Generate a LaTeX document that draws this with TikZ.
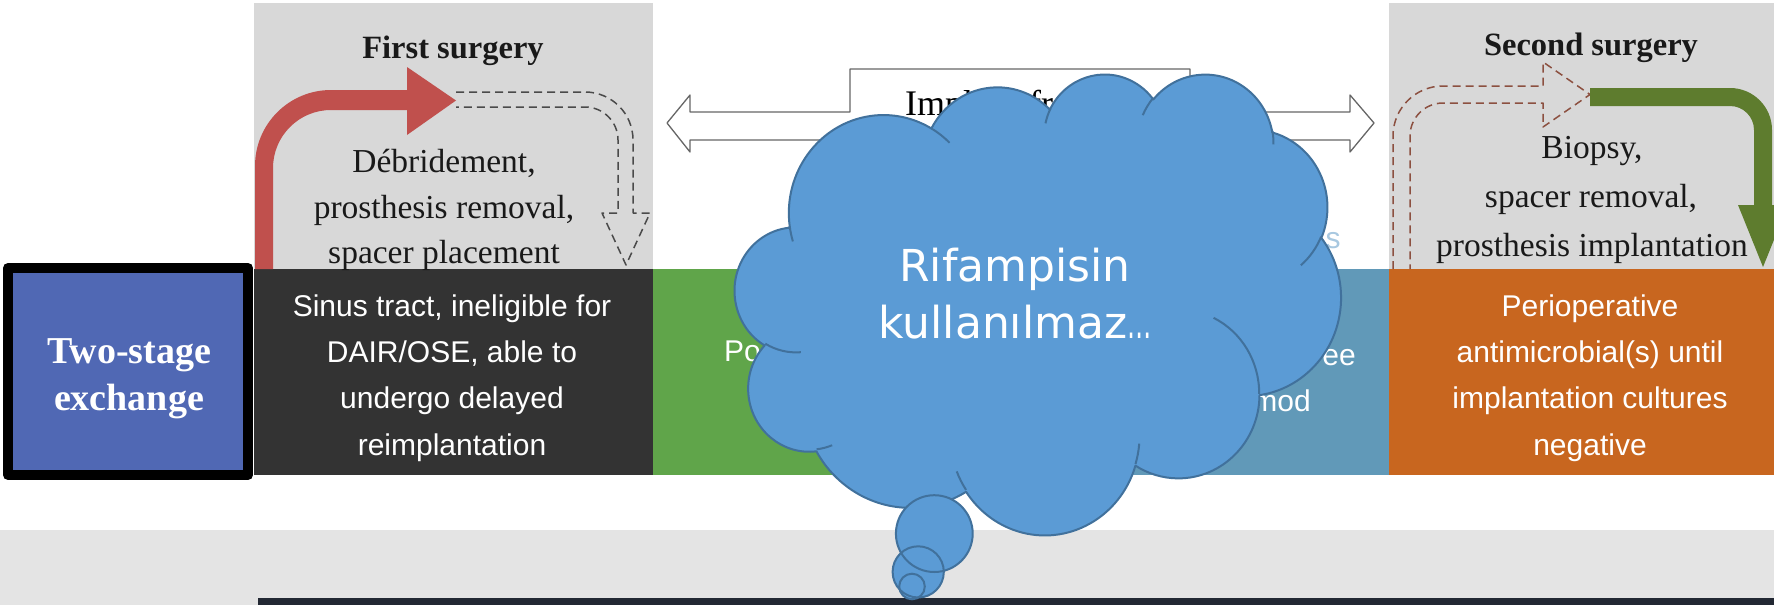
\documentclass[tikz,border=0pt]{standalone}
\usepackage{fontspec}
\usepackage{graphicx}
\setmainfont{Liberation Serif}
\newfontfamily\boxsans{Liberation Sans}
\newfontfamily\cloudfont{DejaVu Sans}
\definecolor{cloudfill}{HTML}{5B9BD5}
\definecolor{cloudline}{HTML}{41719C}
\definecolor{grayboxc}{HTML}{D8D8D8}
\definecolor{darkbox}{HTML}{333333}
\definecolor{bluebox}{HTML}{5068B4}
\definecolor{greenbox}{HTML}{60A54A}
\definecolor{tealbox}{HTML}{6199B8}
\definecolor{orangebox}{HTML}{C8661F}
\definecolor{redarrow}{HTML}{C0504D}
\definecolor{greenarrow}{HTML}{5E7C2E}
\definecolor{banddark}{HTML}{222833}
\definecolor{bandlight}{HTML}{E4E4E4}
\definecolor{dashbrown}{HTML}{8C5040}
\definecolor{dashgray}{HTML}{4A4A4A}
\definecolor{lightblue}{HTML}{A8C8E0}
% OOXML arcTo (visual angles) converted to a TikZ parametric arc
\newcommand\ooarc[4]{arc[x radius=#1, y radius=#2,
  start angle={atan2(#1*sin(#3),#2*cos(#3))},
  delta angle={mod(atan2(#1*sin(#3+#4),#2*cos(#3+#4))-atan2(#1*sin(#3),#2*cos(#3))+720,360)}]}
\begin{document}
\begin{tikzpicture}[x=1pt,y=-1pt,line join=round,
  boxfill/.style={anchor=north west,inner sep=0pt,outer sep=0pt,draw=none},
  whitetxt/.style={text=white,font=\boxsans\fontsize{30}{36}\selectfont,anchor=base,inner sep=0pt},
  graytxt/.style={text=black!90,font=\fontsize{33.5}{40}\selectfont,anchor=base,inner sep=0pt},
  titletxt/.style={text=black!90,font=\bfseries\fontsize{32.5}{39}\selectfont,anchor=base,inner sep=0pt},
  bigtxt/.style={text=white,font=\bfseries\fontsize{38}{43}\selectfont,anchor=base,inner sep=0pt},
  dashedout/.style={dashed,dash pattern=on 8pt off 5pt,line width=1.5pt},
  cloudstroke/.style={draw=cloudline,line width=2pt},
  cloudtxt/.style={text=white,font=\cloudfont\fontsize{44}{52}\selectfont,anchor=base,inner sep=0pt}]
\useasboundingbox (0,0) rectangle (1774,605);
\clip (0,0) rectangle (1774,605);
% background bands
\fill[bandlight] (0,530) rectangle (1774,605);
\fill[banddark] (258,598) rectangle (1774,605);
% gray surgery boxes
\node[boxfill,fill=grayboxc,minimum width=399pt,minimum height=266pt] (g1) at (254,3) {};
\node[boxfill,fill=grayboxc,minimum width=385pt,minimum height=266pt] (g2) at (1389,3) {};
% coloured row
\node[boxfill,fill=darkbox,minimum width=399pt,minimum height=206pt] (dark) at (254,269) {};
\node[boxfill,fill=greenbox,minimum width=367pt,minimum height=206pt] (green) at (653,269) {};
\node[boxfill,fill=tealbox,minimum width=369pt,minimum height=206pt] (teal) at (1020,269) {};
\node[boxfill,fill=orangebox,minimum width=385pt,minimum height=206pt] (orange) at (1389,269) {};
\node[boxfill,fill=bluebox,draw=black,line width=10pt,minimum width=240pt,minimum height=207pt] (two) at (8,268) {};
% texts in boxes
\node[bigtxt] (t1) at (129,363) {Two-stage};
\node[bigtxt] (t2) at (129,410) {exchange};
\node[whitetxt] (d1) at (452,316) {Sinus tract, ineligible for};
\node[whitetxt] (d2) at (452,362) {DAIR/OSE, able to};
\node[whitetxt] (d3) at (452,408) {undergo delayed};
\node[whitetxt] (d4) at (452,455) {reimplantation};
\node[whitetxt] (o1) at (1590,316) {Perioperative};
\node[whitetxt] (o2) at (1590,362) {antimicrobial(s) until};
\node[whitetxt] (o3) at (1590,408) {implantation cultures};
\node[whitetxt] (o4) at (1590,455) {negative};
\node[whitetxt,anchor=base west] (gp) at (724,361) {Po};
\node[whitetxt,anchor=base east] (tr) at (1356,365) {ree};
\node[whitetxt,anchor=base east] (tm) at (1311,411) {mod};
\node[whitetxt,text=lightblue] (ts) at (1333,248) {s};
% first surgery
\node[titletxt] (fs) at (453,58) {First surgery};
\node[graytxt] (f1) at (444,172) {Débridement,};
\node[graytxt] (f2) at (444,218) {prosthesis removal,};
\node[graytxt] (f3) at (444,263) {spacer placement};
% second surgery
\node[titletxt] (ss) at (1591,55) {Second surgery};
\node[graytxt] (s1) at (1592,158) {Biopsy,};
\node[graytxt] (s2) at (1591,207) {spacer removal,};
\node[graytxt] (s3) at (1592,256) {prosthesis implantation};
% red bent arrow
\fill[redarrow] (255,269) -- (255,166) arc[start angle=180,end angle=270,radius=76]
  -- (407,90) -- (407,67) -- (456,100.5) -- (407,135) -- (407,110) -- (331,110)
  arc[start angle=270,end angle=180,radius=58] -- (273,269) -- cycle;
% dashed continuation in first box
\draw[dashedout,draw=dashgray] (456,92) -- (585,92) arc[start angle=270,end angle=360,radius=48]
  -- (633,213) -- (650,213) -- (626,265) -- (602,213) -- (618,213) -- (618,140)
  arc[start angle=0,end angle=-90,radius=33] -- (456,107);
% dashed arrow in second box
\draw[dashedout,draw=dashbrown] (1393,269) -- (1393,136) arc[start angle=180,end angle=270,radius=50]
  -- (1543,86) -- (1543,62) -- (1590,94.5) -- (1543,127) -- (1543,103) -- (1443,103)
  arc[start angle=270,end angle=180,radius=33] -- (1410,269);
% green bent arrow
\fill[greenarrow] (1590,88) -- (1730,88) arc[start angle=270,end angle=360,radius=42]
  -- (1772,205) -- (1788,205) -- (1763,267) -- (1738,205) -- (1754,205) -- (1754,130)
  arc[start angle=0,end angle=-90,radius=24] -- (1590,106) -- cycle;
% double arrow with label tab
\draw[fill=white,draw=black!60,line width=1.3pt] (667,123) -- (690,95) -- (690,112) -- (850,112)
  -- (850,69) -- (1190,69) -- (1190,112) -- (1350,112) -- (1350,95) -- (1374,123)
  -- (1350,152) -- (1350,140) -- (690,140) -- (690,152) -- cycle;
\node[anchor=base west,inner sep=0pt,font=\fontsize{36}{42}\selectfont] (impl) at (905,115) {Implant-free};
% thought cloud (PowerPoint cloud callout)
\begin{scope}[shift={(735,73)},x=0.0140278pt,y=-0.0106713pt]
\path[fill=cloudfill,cloudstroke] (3900,14370)
  \ooarc{6753}{9190}{-190.48748}{123.78053}
  \ooarc{5333}{7267}{-144.10238}{89.94523}
  \ooarc{4365}{5945}{-145.80792}{99.72302}
  \ooarc{4857}{6595}{-130.98607}{117.24173}
  \ooarc{5333}{7273}{-78.70888}{109.02692}
  \ooarc{6775}{9220}{-46.26725}{130.269}
  \ooarc{5785}{7867}{0.62502}{114.03333}
  \ooarc{6752}{9215}{22.4516}{115.17255}
  \ooarc{7720}{10543}{66.24263}{75.71102}
  \ooarc{4360}{5918}{-274.94208}{146.73557}
  \ooarc{4345}{5945}{-246.8285}{152.51885} -- cycle;
\end{scope}
\fill[cloudfill] (934.3,533.6) circle[radius=38.4];
\fill[cloudfill] (918.2,571.9) circle[radius=25.6];
\fill[cloudfill] (912,586.5) circle[radius=12.8];
\draw[cloudstroke] (934.3,533.6) circle[radius=38.4];
\draw[cloudstroke] (918.2,571.9) circle[radius=25.6];
\draw[cloudstroke] (912,586.5) circle[radius=12.8];
\begin{scope}[shift={(735,73)},x=0.0140278pt,y=-0.0106713pt]
\draw[cloudstroke]
  (4693,26177) \ooarc{4345}{5945}{86.742}{26.4295}
  (6928,34899) \ooarc{4360}{5918}{73.61047}{11.44747}
  (16478,39090) \ooarc{6752}{9215}{137.62415}{14.0811}
  (28827,34751) \ooarc{6752}{9215}{6.45327}{15.99835}
  (34129,22954) \ooarc{5785}{7867}{-70.29235}{70.9174}
  (41798,15354) \ooarc{5333}{7273}{30.31803}{27.7515}
  (38324,5426) \ooarc{4857}{6595}{-13.74433}{14.8589}
  (29078,3952) \ooarc{4857}{6595}{-149.18145}{18.19537}
  (22141,4720) \ooarc{4365}{5945}{-163.49427}{17.68635}
  (14000,5192) \ooarc{6753}{9190}{-66.70695}{12.31935}
  (4127,15789) \ooarc{6753}{9190}{157.6543}{11.85817};
\end{scope}
\node[cloudtxt] (c1) at (1015,281) {Rifampisin};
\node[cloudtxt] (c2) at (1015,338) {kullanılmaz\scalebox{0.55}[1]{…}};
\end{tikzpicture}
\end{document}
